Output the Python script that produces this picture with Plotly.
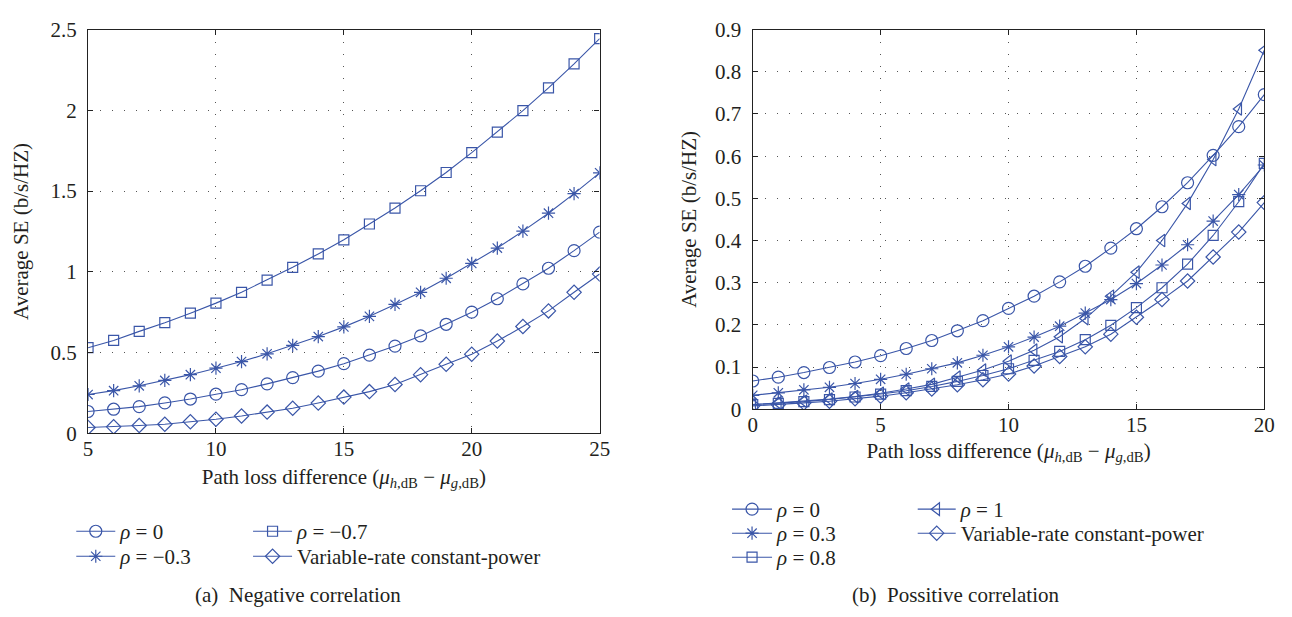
import plotly.graph_objects as go

# ---------------- data: (a) negative correlation ----------------
x_neg = list(range(5, 26))
neg_rho0 = [0.135, 0.149, 0.165, 0.188, 0.212, 0.242, 0.270, 0.306, 0.345, 0.385,
            0.431, 0.484, 0.540, 0.603, 0.675, 0.750, 0.833, 0.925, 1.022, 1.131, 1.246]
neg_rho_m03 = [0.240, 0.264, 0.294, 0.327, 0.363, 0.403, 0.444, 0.492, 0.544, 0.599,
               0.659, 0.724, 0.798, 0.873, 0.960, 1.052, 1.147, 1.252, 1.363, 1.484, 1.613]
neg_rho_m07 = [0.530, 0.575, 0.631, 0.685, 0.744, 0.806, 0.873, 0.948, 1.028, 1.111,
               1.198, 1.296, 1.395, 1.502, 1.615, 1.738, 1.865, 1.998, 2.139, 2.288, 2.444]
neg_vrcp = [0.036, 0.040, 0.048, 0.056, 0.071, 0.087, 0.107, 0.131, 0.155, 0.187,
            0.224, 0.258, 0.302, 0.363, 0.427, 0.490, 0.571, 0.661, 0.758, 0.873, 0.986]

# ---------------- data: (b) positive correlation ----------------
x_pos = list(range(0, 21))
pos_rho0 = [0.067, 0.076, 0.087, 0.099, 0.112, 0.127, 0.144, 0.163, 0.186, 0.210,
            0.239, 0.268, 0.302, 0.339, 0.382, 0.428, 0.480, 0.537, 0.602, 0.670, 0.746]
pos_rho03 = [0.033, 0.039, 0.046, 0.052, 0.061, 0.071, 0.083, 0.096, 0.110, 0.128,
             0.148, 0.171, 0.197, 0.228, 0.260, 0.298, 0.342, 0.390, 0.446, 0.509, 0.579]
pos_rho08 = [0.011, 0.014, 0.018, 0.023, 0.029, 0.036, 0.044, 0.054, 0.066, 0.080,
             0.096, 0.116, 0.137, 0.165, 0.199, 0.241, 0.288, 0.344, 0.412, 0.492, 0.583]
pos_rho1 = [0.011, 0.015, 0.019, 0.024, 0.030, 0.038, 0.048, 0.059, 0.076, 0.093,
            0.114, 0.140, 0.172, 0.215, 0.268, 0.325, 0.400, 0.488, 0.592, 0.712, 0.851]
pos_vrcp = [0.008, 0.011, 0.015, 0.019, 0.025, 0.031, 0.039, 0.048, 0.058, 0.070,
            0.0835, 0.1025, 0.125, 0.148, 0.178, 0.218, 0.260, 0.304, 0.361, 0.420, 0.490]

neg_ticks_x = [5, 10, 15, 20, 25]
neg_ticks_y = [0, 0.5, 1, 1.5, 2, 2.5]
pos_ticks_x = [0, 5, 10, 15, 20]
pos_ticks_y = [0, 0.1, 0.2, 0.3, 0.4, 0.5, 0.6, 0.7, 0.8, 0.9]

BLUE = "#3a56a8"
TXT = "#231f20"
FONT = "Liberation Serif"
FS = 21
W, H = 1292, 617


def px_x(p):
    return p / W


def px_y(p):
    return 1 - p / H


fig = go.Figure()


def add(x, y, name, symbol, size, xa, ya, legend):
    fig.add_trace(go.Scatter(
        x=x, y=y, name=name, mode="lines+markers",
        xaxis=xa, yaxis=ya, legend=legend, showlegend=True,
        line=dict(color=BLUE, width=1.1),
        marker=dict(symbol=symbol, size=size, color=BLUE,
                    line=dict(color=BLUE, width=1.2)),
    ))


add(x_neg, neg_rho0, "<i>ρ</i> = 0", "circle-open", 12, "x", "y", "legend")
add(x_neg, neg_rho_m03, "<i>ρ</i> = −0.3", "asterisk-open", 11, "x", "y", "legend2")
add(x_neg, neg_rho_m07, "<i>ρ</i> = −0.7", "square-open", 10, "x", "y", "legend3")
add(x_neg, neg_vrcp, "Variable-rate constant-power", "diamond-open", 11, "x", "y", "legend4")

add(x_pos, pos_rho0, "<i>ρ</i> = 0", "circle-open", 12, "x2", "y2", "legend5")
add(x_pos, pos_rho03, "<i>ρ</i> = 0.3", "asterisk-open", 11, "x2", "y2", "legend6")
add(x_pos, pos_rho08, "<i>ρ</i> = 0.8", "square-open", 10, "x2", "y2", "legend7")
add(x_pos, pos_rho1, "<i>ρ</i> = 1", "triangle-left-open", 11, "x2", "y2", "legend8")
add(x_pos, pos_vrcp, "Variable-rate constant-power", "diamond-open", 11, "x2", "y2", "legend9")

axis_common = dict(
    showline=True, linecolor="#222", linewidth=1.3, mirror="ticks",
    ticks="inside", ticklen=5, tickcolor="#222", tickwidth=1,
    showgrid=True, gridcolor="#555", gridwidth=1, griddash="1px,11px",
    zeroline=False, tickfont=dict(family=FONT, size=21, color=TXT),
    title_font=dict(family=FONT, size=FS, color=TXT),
    ticklabeloverflow="allow",
)

xtitle = "Path loss difference (<i>μ</i><sub><i>h</i>,dB</sub> − <i>μ</i><sub><i>g</i>,dB</sub>)"

fig.update_layout(
    width=W, height=H, margin=dict(l=0, r=0, t=0, b=0),
    paper_bgcolor="white", plot_bgcolor="white", showlegend=True,
    font=dict(family=FONT, size=FS, color=TXT),
    xaxis=dict(domain=[px_x(76), px_x(594)], range=[5, 25], tickvals=neg_ticks_x,
               anchor="y", ticklabelstandoff=-4,
               title=dict(text=xtitle, standoff=9), **axis_common),
    yaxis=dict(domain=[px_y(430), px_y(10)], range=[0, 2.5], tickvals=neg_ticks_y,
               anchor="x", ticklabelstandoff=6,
               title=dict(text="Average SE (b/s/HZ)", standoff=16), **axis_common),
    xaxis2=dict(domain=[px_x(749), px_x(1267)], range=[0, 20], tickvals=pos_ticks_x,
                anchor="y2", ticklabelstandoff=-4,
                title=dict(text=xtitle, standoff=7), **axis_common),
    yaxis2=dict(domain=[px_y(405), px_y(10)], range=[0, 0.9], tickvals=pos_ticks_y,
                anchor="x2", ticklabelstandoff=6,
                title=dict(text="Average SE (b/s/HZ)", standoff=12), **axis_common),
)

# one legend box per legend row: (name, line start px, row centre px, itemwidth)
legend_slots = [
    ("legend", 76, 530, 39), ("legend2", 76, 556, 39),
    ("legend3", 255, 530, 39), ("legend4", 255, 556, 39),
    ("legend5", 740, 507, 40), ("legend6", 740, 532, 40), ("legend7", 740, 557, 40),
    ("legend8", 928, 507, 38), ("legend9", 928, 532, 38),
]
legs = {}
for name, lx, cy, iw in legend_slots:
    legs[name] = dict(font=dict(family=FONT, size=FS, color=TXT), bgcolor="rgba(0,0,0,0)",
                      orientation="v", xanchor="left", yanchor="top", itemwidth=iw,
                      x=px_x(lx - 17), y=px_y(cy - 19))
fig.update_layout(**legs)

fig.add_annotation(text="(a)  Negative correlation", xref="paper", yref="paper",
                   x=px_x(289), y=px_y(598), showarrow=False, xanchor="center", yanchor="middle",
                   font=dict(family=FONT, size=FS, color=TXT))
fig.add_annotation(text="(b)  Possitive correlation", xref="paper", yref="paper",
                   x=px_x(955), y=px_y(598), showarrow=False, xanchor="center", yanchor="middle",
                   font=dict(family=FONT, size=FS, color=TXT))

fig.write_html("out.html")
